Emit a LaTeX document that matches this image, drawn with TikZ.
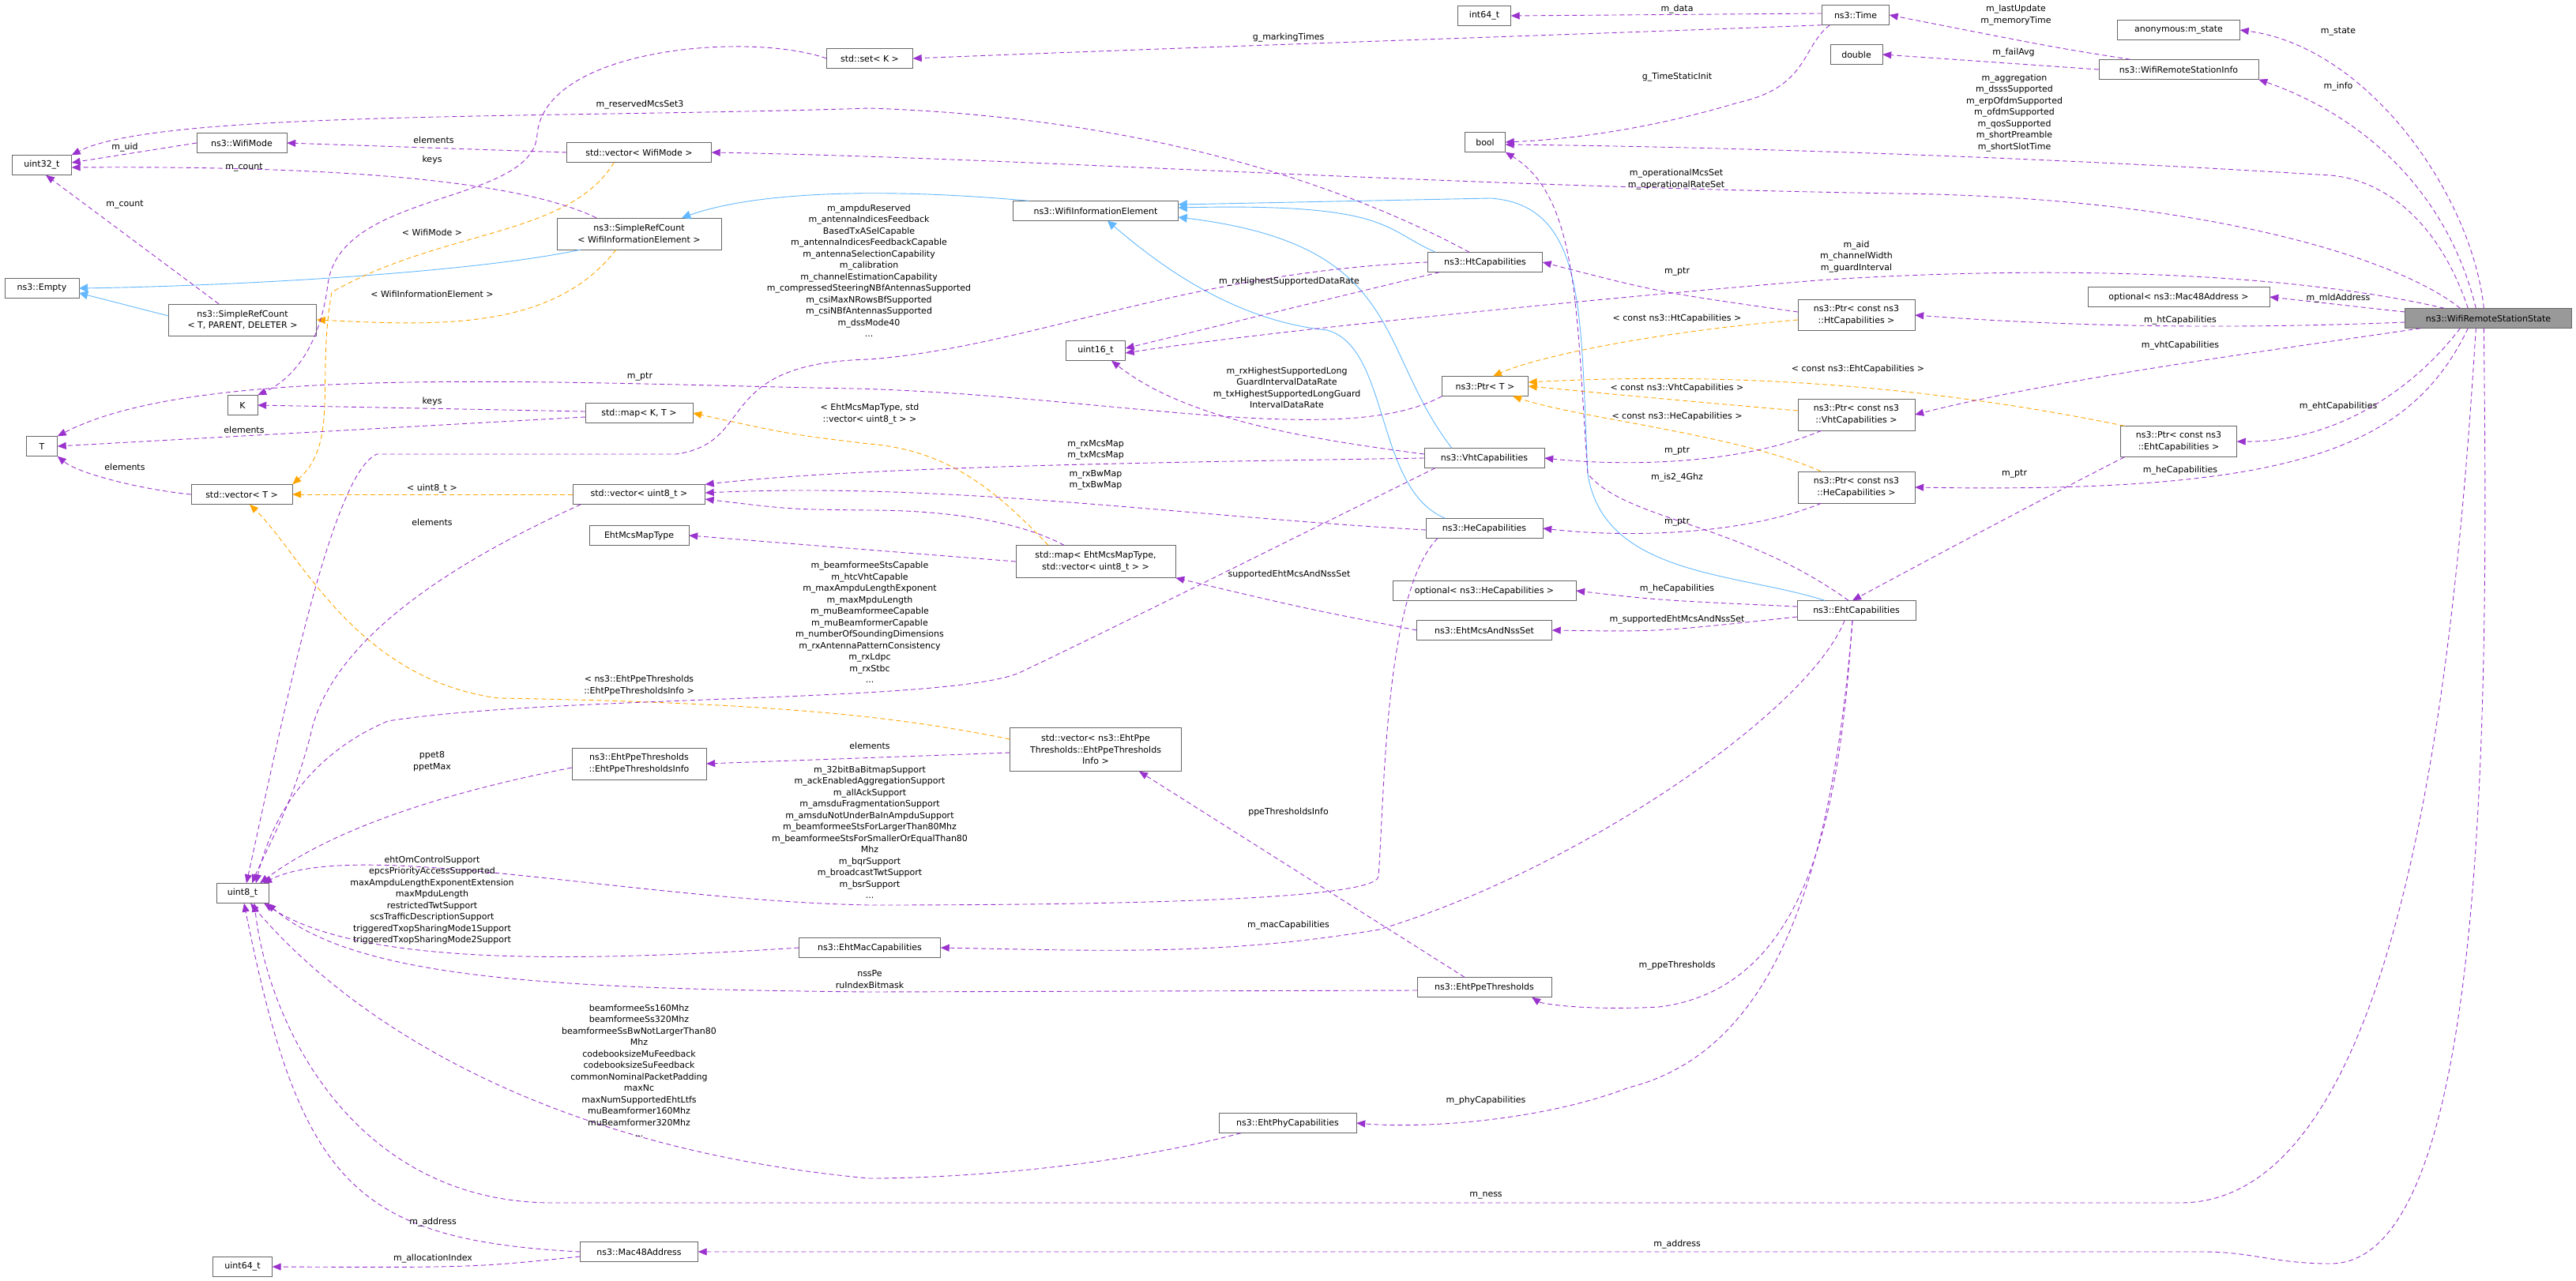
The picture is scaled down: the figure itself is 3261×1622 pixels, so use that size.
\documentclass[tikz,border=0pt]{standalone}
\usepackage{fontspec}
\setmainfont{DejaVu Sans}
\usetikzlibrary{arrows.meta}
\definecolor{pur}{HTML}{9A32CD}
\definecolor{orng}{HTML}{FFA500}
\definecolor{blu}{HTML}{63B8FF}
\definecolor{gfill}{HTML}{999999}
\newcommand\lf{\fontsize{11}{14.5}\selectfont}
\tikzset{
 box/.style={draw=gray!80!black, fill=white, inner sep=2pt, minimum height=25, align=center, font=\lf},
 lbl/.style={font=\lf, align=center, inner sep=0pt},
 pe/.style={draw=pur, dash pattern=on 6pt off 4pt, line width=0.9pt, -{Triangle[length=11pt,width=9pt]}},
 oe/.style={draw=orng, dash pattern=on 6pt off 4pt, line width=0.9pt, -{Triangle[length=11pt,width=9pt]}},
 be/.style={draw=blu, line width=0.9pt, -{Triangle[length=11pt,width=11pt]}},
}
\begin{document}
\begin{tikzpicture}[x=1pt,y=-1pt]
\useasboundingbox (0,0) rectangle (3261,1622);
% nodes
\node[box,minimum width=67] (int64) at (1879,20) {int64\_t};
\node[box,minimum width=85] (time) at (2349,19) {ns3::Time};
\node[box,minimum width=155] (anon) at (2758,38) {anonymous:m\_state};
\node[box,minimum width=66] (dbl) at (2350,69) {double};
\node[box,minimum width=202] (info) at (2758,88) {ns3::WifiRemoteStationInfo};
\node[box,minimum width=109] (set) at (1101,74) {std::set< K >};
\node[box,minimum width=51] (bool) at (1880,180) {bool};
\node[box,minimum width=75] (u32) at (53,209) {uint32\_t};
\node[box,minimum width=114] (wmode) at (306,181) {ns3::WifiMode};
\node[box,minimum width=183] (vwm) at (809,193) {std::vector< WifiMode >};
\node[box,minimum width=208,minimum height=40] (srcw) at (809,296) {ns3::SimpleRefCount\\< WifiInformationElement >};
\node[box,minimum width=94] (empty) at (53,365) {ns3::Empty};
\node[box,minimum width=187,minimum height=40] (srct) at (307,405) {ns3::SimpleRefCount\\< T, PARENT, DELETER >};
\node[box,minimum width=209] (wie) at (1387,267) {ns3::WifiInformationElement};
\node[box,minimum width=145] (ht) at (1880,332) {ns3::HtCapabilities};
\node[box,minimum width=148,minimum height=39] (pht) at (2350,399) {ns3::Ptr< const ns3\\::HtCapabilities >};
\node[box,minimum width=230] (optm) at (2758,376) {optional< ns3::Mac48Address >};
\node[box,minimum width=211,fill=gfill] (wrss) at (3150,403) {ns3::WifiRemoteStationState};
\node[box,minimum width=38] (K) at (307,513) {K};
\node[box,minimum width=39] (T) at (53,565) {T};
\node[box,minimum width=136] (mapkt) at (809,523) {std::map< K, T >};
\node[box,minimum width=75] (u16) at (1387,444) {uint16\_t};
\node[box,minimum width=109] (ptrt) at (1880,489) {ns3::Ptr< T >};
\node[box,minimum width=148,minimum height=40] (pvht) at (2350,525) {ns3::Ptr< const ns3\\::VhtCapabilities >};
\node[box,minimum width=147,minimum height=39] (peht) at (2758,559) {ns3::Ptr< const ns3\\::EhtCapabilities >};
\node[box,minimum width=148,minimum height=40] (phe) at (2350,617) {ns3::Ptr< const ns3\\::HeCapabilities >};
\node[box,minimum width=152] (vht) at (1879,580) {ns3::VhtCapabilities};
\node[box,minimum width=148] (he) at (1879,669) {ns3::HeCapabilities};
\node[box,minimum width=202,minimum height=41] (mapeht) at (1387,711) {std::map< EhtMcsMapType,\\std::vector< uint8\_t > >};
\node[box,minimum width=232] (opthe) at (1879,748) {optional< ns3::HeCapabilities >};
\node[box,minimum width=171] (mcsnss) at (1879,798) {ns3::EhtMcsAndNssSet};
\node[box,minimum width=150] (eht) at (2350,773) {ns3::EhtCapabilities};
\node[box,minimum width=128] (vT) at (306,626) {std::vector< T >};
\node[box,minimum width=167] (vu8) at (809,626) {std::vector< uint8\_t >};
\node[box,minimum width=126] (mmt) at (809,678) {EhtMcsMapType};
\node[box,minimum width=66] (u8) at (307,1131) {uint8\_t};
\node[box,minimum width=170,minimum height=40] (ppeinfo) at (809,967) {ns3::EhtPpeThresholds\\::EhtPpeThresholdsInfo};
\node[box,minimum width=217,minimum height=55] (vppe) at (1387,949) {std::vector< ns3::EhtPpe\\Thresholds::EhtPpeThresholds\\Info >};
\node[box,minimum width=179] (emac) at (1101,1200) {ns3::EhtMacCapabilities};
\node[box,minimum width=170] (eppe) at (1879,1250) {ns3::EhtPpeThresholds};
\node[box,minimum width=174] (ephy) at (1630,1422) {ns3::EhtPhyCapabilities};
\node[box,minimum width=149] (mac48) at (809,1585) {ns3::Mac48Address};
\node[box,minimum width=75] (u64) at (307,1604) {uint64\_t};
% blue inheritance
\draw[be] ([xshift=30]srcw.south west) .. controls (600,345) and (300,362) .. (empty.east);
\draw[be] ([yshift=5]srct.west) -- ([yshift=-6]empty.east);
\draw[be] ([xshift=20]wie.north west) .. controls (1100,236) and (950,245) .. ([xshift=-50]srcw.north east);
\draw[be] ([xshift=10]ht.north west) .. controls (1750,290) and (1760,257) .. ([yshift=4]wie.east);
\draw[be] ([xshift=35]vht.north west) .. controls (1740,440) and (1780,310) .. ([yshift=-8]wie.east);
\draw[be] ([xshift=25]he.north west) .. controls (1740,620) and (1760,440) .. (1680,418) .. controls (1550,405) and (1450,320) .. ([xshift=15]wie.south);
\draw[be] ([xshift=-40]eht.north) .. controls (2200,725) and (2030,730) .. (2010,600) .. controls (2000,400) and (2010,260) .. (1887,251) -- ([yshift=8]wie.east);
% orange templates
\draw[oe] ([xshift=60]vwm.south west) .. controls (720,300) and (560,290) .. (420,370) .. controls (400,480) and (430,560) .. (vT.north east);
\draw[oe] ([xshift=75]srcw.south west) .. controls (700,420) and (550,412) .. (srct.east);
\draw[oe] ([yshift=-6]pht.west) .. controls (2100,420) and (1950,450) .. ([xshift=10]ptrt.north);
\draw[oe] (vu8.west) -- (vT.east);
\draw[oe] ([xshift=-60]mapeht.north) .. controls (1260,620) and (1200,570) .. (1100,562) .. controls (1000,550) .. (mapkt.east);
\draw[oe] ([yshift=5]pvht.west) .. controls (2100,505) and (2000,495) .. (ptrt.east);
\draw[oe] ([xshift=-45]phe.north) .. controls (2200,550) and (2000,530) .. ([xshift=35]ptrt.south);
\draw[oe] ([xshift=5]peht.north west) .. controls (2450,490) and (2200,470) .. ([yshift=5]ptrt.east);
\draw[oe] ([yshift=13]vppe.west) .. controls (1150,910) and (1000,890) .. (631,884) .. controls (450,860) and (380,700) .. ([xshift=10]vT.south);
% purple members
\draw[pe] ([yshift=2]time.west) -- (int64.east);
\draw[pe] (time.south west) .. controls (2100,40) and (1500,60) .. (set.east);
\draw[pe] ([xshift=10]time.south west) .. controls (2280,60) and (2290,110) .. (2200,130) .. controls (2100,160) and (2000,176) .. (bool.east);
\draw[pe] ([xshift=40]info.north west) .. controls (2600,60) .. (time.east);
\draw[pe] (info.west) -- (dbl.east);
\draw[pe] ([xshift=100]wrss.north west) .. controls (3130,250) and (3000,60) .. (anon.east);
\draw[pe] ([xshift=90]wrss.north west) .. controls (3100,250) and (3000,150) .. (info.south east);
\draw[pe] ([xshift=80]wrss.north west) .. controls (3080,260) and (3000,226) .. (2950,222) .. controls (2600,200) and (2200,186) .. ([yshift=-3]bool.east);
\draw[pe] ([xshift=70]wrss.north west) .. controls (3040,330) and (2800,250) .. (2400,245) .. controls (1800,235) and (1300,200) .. (vwm.east);
\draw[pe] ([xshift=50]wrss.north west) .. controls (2900,345) and (2600,335) .. (2300,355) .. controls (2000,380) and (1600,420) .. ([yshift=-3]u16.east);
\draw[pe] ([yshift=8]wrss.west) -- (optm.east);
\draw[pe] ([yshift=-5]wrss.west) .. controls (2800,418) and (2600,412) .. (pht.east);
\draw[pe] ([xshift=20]wrss.south west) .. controls (2900,440) and (2600,480) .. (pvht.east);
\draw[pe] ([xshift=70]wrss.south west) .. controls (3050,500) and (2950,560) .. (peht.east);
\draw[pe] ([xshift=80]wrss.south west) .. controls (3050,570) and (2900,625) .. (phe.east);
\draw[pe] ([xshift=90]wrss.south west) .. controls (3110,800) and (3050,1523) .. (2760,1523) -- (700,1523) .. controls (450,1523) and (340,1300) .. ([xshift=15]u8.south);
\draw[pe] ([xshift=100]wrss.south west) .. controls (3150,900) and (3150,1600) .. (2950,1600) .. controls (2880,1600) and (2850,1585) .. (2790,1585) -- (mac48.east);
\draw[pe] (set.west) .. controls (950,40) and (690,60) .. (680,170) .. controls (675,260) and (430,240) .. (415,360) .. controls (405,440) and (370,480) .. (K.north east);
\draw[pe] (vwm.west) -- (wmode.east);
\draw[pe] (wmode.west) -- ([yshift=3]u32.east);
\draw[pe] ([xshift=50]srcw.north west) .. controls (650,225) and (400,210) .. ([yshift=-3]u32.east);
\draw[pe] ([xshift=-30]srct.north) -- ([xshift=5]u32.south);
\draw[pe] ([xshift=-20]ht.north) .. controls (1750,260) and (1500,150) .. (1100,137) .. controls (700,150) and (200,140) .. (u32.north east);
\draw[pe] (ht.west) .. controls (1500,345) and (1300,440) .. (1100,455) .. controls (900,460) and (960,560) .. (856,575) -- (477,575) .. controls (420,600) and (360,900) .. ([xshift=5]u8.north);
\draw[pe] ([xshift=15]ht.south west) -- ([yshift=3]u16.east);
\draw[pe] ([yshift=4]pht.west) .. controls (2100,370) .. (ht.east);
\draw[pe] (ptrt.south west) .. controls (1700,570) and (1400,500) .. (1080,492) .. controls (700,485) and (250,460) .. (T.north east);
\draw[pe] ([yshift=2]mapkt.west) -- (K.east);
\draw[pe] ([yshift=-5]mapkt.west) -- (T.east);
\draw[pe] (vT.west) .. controls (180,620) and (100,600) .. (T.south east);
\draw[pe] ([xshift=10]vu8.south west) .. controls (600,700) and (420,800) .. (393,931) .. controls (370,1020) and (335,1080) .. ([xshift=12]u8.north);
\draw[pe] ([xshift=-40]mapeht.north) .. controls (1290,660) and (1200,646) .. (1100,646) .. controls (1000,645) .. ([yshift=-6]vu8.east);
\draw[pe] (mapeht.west) -- (mmt.east);
\draw[pe] ([yshift=5]vht.west) .. controls (1650,555) and (1500,530) .. ([xshift=20]u16.south);
\draw[pe] (vht.west) .. controls (1500,585) and (1100,590) .. (vu8.north east);
\draw[pe] ([yshift=-2]he.west) .. controls (1500,654) and (1200,610) .. ([yshift=2]vu8.east);
\draw[pe] ([xshift=14]vht.south west) .. controls (1600,700) and (1400,800) .. (1290,852) .. controls (1200,890) and (700,880) .. (491,913) .. controls (380,960) and (340,1050) .. ([xshift=17]u8.north);
\draw[pe] ([xshift=30]pvht.south west) .. controls (2200,590) and (2050,590) .. (vht.east);
\draw[pe] ([xshift=30]phe.south west) .. controls (2200,680) and (2050,680) .. (he.east);
\draw[pe] ([xshift=5]peht.south west) .. controls (2550,650) and (2420,720) .. ([xshift=-5]eht.north);
\draw[pe] ([xshift=-10]eht.north) .. controls (2200,660) and (2060,660) .. (2010,600) .. controls (1995,400) and (2000,250) .. (bool.south east);
\draw[pe] ([yshift=5]eht.west) .. controls (2100,760) .. (opthe.east);
\draw[pe] ([yshift=-8]eht.west) .. controls (2100,800) .. (mcsnss.east);
\draw[pe] (mcsnss.west) .. controls (1650,770) .. (mapeht.south east);
\draw[pe] ([xshift=-15]eht.south) .. controls (2290,900) and (2000,1100) .. (1746,1177) .. controls (1550,1210) and (1400,1204) .. (emac.east);
\draw[pe] ([xshift=-5]eht.south) .. controls (2330,1000) and (2300,1250) .. (2100,1275) .. controls (2000,1280) and (1950,1270) .. ([xshift=-25]eppe.south east);
\draw[pe] ([xshift=-5]eht.south) .. controls (2320,1100) and (2250,1330) .. (2062,1377) .. controls (1950,1420) and (1800,1429) .. (ephy.east);
\draw[pe] (emac.west) .. controls (700,1220) and (450,1220) .. ([xshift=-6]u8.south east);
\draw[pe] ([yshift=-4]eppe.west) -- (1100,1256) .. controls (700,1252) and (450,1240) .. ([xshift=-2]u8.south east);
\draw[pe] ([xshift=-25]eppe.north) -- ([xshift=55]vppe.south);
\draw[pe] ([yshift=-4]vppe.west) -- (ppeinfo.east);
\draw[pe] ([yshift=-5]ppeinfo.west) .. controls (560,1004) and (420,1050) .. ([xshift=22]u8.north);
\draw[pe] ([xshift=28]ephy.south west) .. controls (1400,1480) and (1200,1492) .. (1100,1492) .. controls (700,1455) and (450,1300) .. ([xshift=10]u8.south);
\draw[pe] (mac48.west) .. controls (450,1570) and (380,1500) .. ([xshift=2]u8.south);
\draw[pe] ([yshift=-6]mac48.west) .. controls (600,1605) .. (u64.east);
\draw[pe] ([xshift=15]he.south west) .. controls (1753,750) and (1753,1000) .. (1745,1110) .. controls (1740,1140) and (1400,1146) .. (1100,1146) .. controls (800,1140) and (450,1060) .. ([xshift=26]u8.north);
% labels
\node[lbl] (l1) at (2123,12) {m\_data};
\node[lbl] (l2) at (1631,48) {g\_markingTimes};
\node[lbl] (l3) at (2123,98) {g\_TimeStaticInit};
\node[lbl] (l4) at (2552,19) {m\_lastUpdate\\m\_memoryTime};
\node[lbl] (l5) at (2549,67) {m\_failAvg};
\node[lbl] (l6) at (2960,40) {m\_state};
\node[lbl] (l7) at (2960,110) {m\_info};
\node[lbl] (l8) at (2550,143) {m\_aggregation\\m\_dsssSupported\\m\_erpOfdmSupported\\m\_ofdmSupported\\m\_qosSupported\\m\_shortPreamble\\m\_shortSlotTime};
\node[lbl] (l9) at (2122,227) {m\_operationalMcsSet\\m\_operationalRateSet};
\node[lbl] (l10) at (2350,325) {m\_aid\\m\_channelWidth\\m\_guardInterval};
\node[lbl] (l11) at (2960,378) {m\_mldAddress};
\node[lbl] (l12) at (2760,406) {m\_htCapabilities};
\node[lbl] (l13) at (2760,438) {m\_vhtCapabilities};
\node[lbl] (l14) at (2352,467) {< const ns3::EhtCapabilities >};
\node[lbl] (l15) at (2960,515) {m\_ehtCapabilities};
\node[lbl] (l16) at (2550,600) {m\_ptr};
\node[lbl] (l17) at (2760,596) {m\_heCapabilities};
\node[lbl] (l18) at (810,133) {m\_reservedMcsSet3};
\node[lbl] (l19) at (158,187) {m\_uid};
\node[lbl] (l20) at (549,177) {elements};
\node[lbl] (l21) at (547,202) {keys};
\node[lbl] (l22) at (309,212) {m\_count};
\node[lbl] (l23) at (158,259) {m\_count};
\node[lbl] (l24) at (547,294) {< WifiMode >};
\node[lbl] (l25) at (547,372) {< WifiInformationElement >};
\node[lbl] (l26) at (810,477) {m\_ptr};
\node[lbl] (l27) at (547,508) {keys};
\node[lbl] (l28) at (309,544) {elements};
\node[lbl] (l29) at (158,591) {elements};
\node[lbl] (l30) at (547,619) {< uint8\_t >};
\node[lbl] (l31) at (547,661) {elements};
\node[lbl] (l32) at (1100,343) {m\_ampduReserved\\m\_antennaIndicesFeedback\\BasedTxASelCapable\\m\_antennaIndicesFeedbackCapable\\m\_antennaSelectionCapability\\m\_calibration\\m\_channelEstimationCapability\\m\_compressedSteeringNBfAntennasSupported\\m\_csiMaxNRowsBfSupported\\m\_csiNBfAntennasSupported\\m\_dssMode40\\...};
\node[lbl] (l33) at (1101,524) {< EhtMcsMapType, std\\::vector< uint8\_t > >};
\node[lbl] (l34) at (1101,788) {m\_beamformeeStsCapable\\m\_htcVhtCapable\\m\_maxAmpduLengthExponent\\m\_maxMpduLength\\m\_muBeamformeeCapable\\m\_muBeamformerCapable\\m\_numberOfSoundingDimensions\\m\_rxAntennaPatternConsistency\\m\_rxLdpc\\m\_rxStbc\\...};
\node[lbl] (l35) at (809,868) {< ns3::EhtPpeThresholds\\::EhtPpeThresholdsInfo >};
\node[lbl] (l36) at (1101,944) {elements};
\node[lbl] (l37) at (547,964) {ppet8\\ppetMax};
\node[lbl] (l38) at (1101,1054) {m\_32bitBaBitmapSupport\\m\_ackEnabledAggregationSupport\\m\_allAckSupport\\m\_amsduFragmentationSupport\\m\_amsduNotUnderBaInAmpduSupport\\m\_beamformeeStsForLargerThan80Mhz\\m\_beamformeeStsForSmallerOrEqualThan80\\Mhz\\m\_bqrSupport\\m\_broadcastTwtSupport\\m\_bsrSupport\\...};
\node[lbl] (l39) at (547,1140) {ehtOmControlSupport\\epcsPriorityAccessSupported\\maxAmpduLengthExponentExtension\\maxMpduLength\\restrictedTwtSupport\\scsTrafficDescriptionSupport\\triggeredTxopSharingMode1Support\\triggeredTxopSharingMode2Support};
\node[lbl] (l40) at (1101,1240) {nssPe\\ruIndexBitmask};
\node[lbl] (l41) at (809,1356) {beamformeeSs160Mhz\\beamformeeSs320Mhz\\beamformeeSsBwNotLargerThan80\\Mhz\\codebooksizeMuFeedback\\codebooksizeSuFeedback\\commonNominalPacketPadding\\maxNc\\maxNumSupportedEhtLtfs\\muBeamformer160Mhz\\muBeamformer320Mhz\\...};
\node[lbl] (l42) at (548,1548) {m\_address};
\node[lbl] (l43) at (548,1594) {m\_allocationIndex};
\node[lbl] (l44) at (1631,1028) {ppeThresholdsInfo};
\node[lbl] (l45) at (1631,1172) {m\_macCapabilities};
\node[lbl] (l46) at (2123,1223) {m\_ppeThresholds};
\node[lbl] (l47) at (1881,1394) {m\_phyCapabilities};
\node[lbl] (l48) at (1881,1514) {m\_ness};
\node[lbl] (l49) at (2123,1576) {m\_address};
\node[lbl] (l50) at (1632,357) {m\_rxHighestSupportedDataRate};
\node[lbl] (l51) at (2123,344) {m\_ptr};
\node[lbl] (l52) at (2123,403) {< const ns3::HtCapabilities >};
\node[lbl] (l53) at (1629,491) {m\_rxHighestSupportedLong\\GuardIntervalDataRate\\m\_txHighestSupportedLongGuard\\IntervalDataRate};
\node[lbl] (l54) at (2123,491) {< const ns3::VhtCapabilities >};
\node[lbl] (l55) at (2123,527) {< const ns3::HeCapabilities >};
\node[lbl] (l56) at (1387,570) {m\_rxMcsMap\\m\_txMcsMap};
\node[lbl] (l57) at (1387,608) {m\_rxBwMap\\m\_txBwMap};
\node[lbl] (l58) at (2123,571) {m\_ptr};
\node[lbl] (l59) at (2123,605) {m\_is2\_4Ghz};
\node[lbl] (l60) at (2123,661) {m\_ptr};
\node[lbl] (l61) at (1632,727) {supportedEhtMcsAndNssSet};
\node[lbl] (l62) at (2123,746) {m\_heCapabilities};
\node[lbl] (l63) at (2123,785) {m\_supportedEhtMcsAndNssSet};
\end{tikzpicture}
\end{document}
